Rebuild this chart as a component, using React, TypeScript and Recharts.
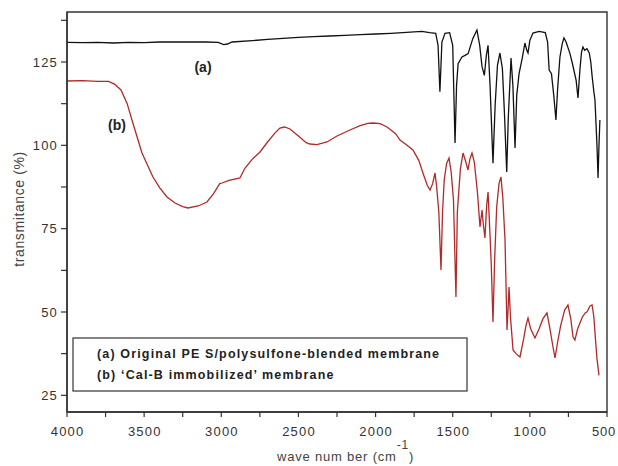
import { LineChart, Line, XAxis, YAxis, ReferenceArea } from 'recharts';

// wavenumber (cm-1) and transmittance (%) for curve (a), original PES/polysulfone membrane
const waveA = [
  4000, 3900, 3800, 3700, 3600, 3500, 3400, 3300, 3200, 3100, 3020, 2985, 2960, 2930, 2800, 2700,
  2600, 2500, 2400, 2300, 2200, 2100, 2000, 1900, 1800, 1700, 1650, 1610, 1595, 1583, 1570, 1550,
  1520, 1500, 1485, 1475, 1465, 1440, 1420, 1400, 1370, 1343, 1325, 1310, 1295, 1282, 1271, 1258,
  1239, 1225, 1210, 1194, 1178, 1165, 1150, 1140, 1122, 1110, 1096, 1085, 1070, 1050, 1032, 1020,
  1012, 1000, 980, 940, 900, 885, 875, 860, 845, 831, 820, 805, 790, 779, 765, 740,
  725, 712, 700, 688, 675, 665, 656, 645, 630, 615, 605, 597, 585, 578, 565, 558,
  552, 546,
];
const transA = [
  130.9, 130.8, 130.9, 130.7, 130.9, 130.8, 131.0, 131.0, 131.0, 131.0, 130.9, 130.2, 130.4, 131.0, 131.4, 131.8,
  132.1, 132.4, 132.6, 132.8, 133.0, 133.2, 133.4, 133.6, 133.9, 134.2, 133.8, 133.6, 130, 116.1, 131, 133.6,
  133.8, 130, 100.7, 118, 124.5, 126.5, 127, 127.5, 132, 134.6, 130, 123.6, 121, 127, 130, 118,
  94.6, 112, 124, 127.7, 123, 110, 92, 108, 126.2, 118, 99.2, 115, 121.5, 126, 130.7, 128.5,
  127.7, 131.5, 133.7, 134.2, 133.8, 131, 122.6, 121.5, 115, 107.6, 117, 126.5, 130.5, 132.2, 131, 127.5,
  124.7, 122, 119.5, 114.2, 123, 128, 129.5, 128.5, 129, 127.7, 125, 121, 116, 113.6, 100, 90.2,
  100, 107.6,
];

// curve (b), Cal-B immobilized membrane
const waveB = [
  4000, 3900, 3800, 3730, 3690, 3650, 3610, 3579, 3514, 3443, 3400, 3352, 3300, 3250, 3216, 3150,
  3093, 3050, 3010, 2995, 2950, 2879, 2846, 2800, 2749, 2700, 2650, 2620, 2590, 2555, 2500, 2450,
  2425, 2380, 2315, 2250, 2166, 2100, 2050, 2017, 1970, 1926, 1870, 1842, 1800, 1758, 1720, 1693,
  1665, 1647, 1630, 1615, 1605, 1590, 1576, 1566, 1555, 1540, 1524, 1510, 1495, 1479, 1470, 1460,
  1450, 1433, 1415, 1401, 1388, 1375, 1360, 1340, 1323, 1310, 1301, 1291, 1280, 1271, 1260, 1250,
  1239, 1228, 1215, 1200, 1187, 1175, 1161, 1148, 1140, 1135, 1125, 1109, 1090, 1064, 1040, 1025,
  1012, 995, 967, 940, 915, 889, 870, 850, 837, 820, 800, 775, 753, 735, 720, 708,
  690, 660, 640, 630, 610, 597, 585, 575, 565, 552,
];
const transB = [
  119.3, 119.4, 119.2, 119.2, 118.3, 116.6, 112.5, 107.6, 97.7, 90.5, 87.3, 84.5, 82.7, 81.6, 81.2, 81.8,
  83, 85.5, 88.5, 88.7, 89.5, 90.2, 93.2, 95.8, 98, 101, 103.8, 105.2, 105.5, 104.9, 102.8, 100.8,
  100.4, 100.2, 101, 102.8, 104.6, 105.9, 106.6, 106.7, 106.5, 105.5, 103.5, 101.6, 100.2, 98.6, 95.5, 91.7,
  88, 86.6, 88.5, 91.7, 88, 80, 62.6, 80, 89.6, 94.5, 96.2, 92, 83.6, 54.5, 80, 86.6,
  93, 97.7, 95, 92.6, 96, 97.7, 95, 86, 75.5, 80.6, 76, 72.2, 82, 86, 75, 64,
  47, 66, 81.5, 88.5, 90.5, 84, 71.6, 44.6, 52, 57.5, 48, 38.6, 37.5, 36.5, 42, 46,
  48.2, 45, 42.2, 45, 48, 49.7, 45, 39.5, 36.2, 41, 46, 50.5, 52.1, 48, 42.5, 41.6,
  45, 48.5, 49.8, 50, 51.8, 52.1, 48.5, 42, 36, 31,
];

const xTicks = [500, 750, 1000, 1250, 1500, 1750, 2000, 2250, 2500, 2750, 3000, 3250, 3500, 3750, 4000];
const yTicks = [25, 37.5, 50, 62.5, 75, 87.5, 100, 112.5, 125, 137.5];

const legendLines = [
  '(a) Original PE S/polysulfone-blended membrane',
  '(b) \u2018Cal-B immobilized\u2019 membrane',
];

const dataA = waveA.map((w, i) => ({ wn: w, t: transA[i] }));
const dataB = waveB.map((w, i) => ({ wn: w, t: transB[i] }));

const FONT = '"Liberation Sans", Arial, sans-serif';
const AXIS = '#333';

const XTick = (props: any) => {
  const { x, y, payload } = props;
  const major = payload.value % 500 === 0;
  // the last label sits against the page edge, so pull it inside
  const last = payload.value === 500;
  return (
    <g>
      <line x1={x} x2={x} y1={y} y2={y + 5} stroke={AXIS} strokeWidth={1.2} />
      {major && (
        <text
          x={last ? 616 : x + 0.6}
          y={y + 23.5}
          textAnchor={last ? 'end' : 'middle'}
          fontSize={13}
          letterSpacing={last ? 0.8 : 1.2}
          fill="#333"
          fontFamily={FONT}
        >
          {payload.value}
        </text>
      )}
    </g>
  );
};

const YTick = (props: any) => {
  const { x, y, payload } = props;
  const major = payload.value % 25 === 0;
  return (
    <g>
      <line x1={x - 6} x2={x} y1={y} y2={y} stroke={AXIS} strokeWidth={1.2} />
      {major && (
        <text x={x - 9} y={y + 4.5} textAnchor="end" fontSize={13} letterSpacing={1.2} fill="#333" fontFamily={FONT}>
          {payload.value}
        </text>
      )}
    </g>
  );
};

export default function App() {
  return (
    <div style={{ position: 'absolute', left: 0, top: 0, width: 618, height: 466, background: '#fff' }}>
      <LineChart width={618} height={466} margin={{ top: 12, right: 11, bottom: 0, left: 0 }}>
        <XAxis
          dataKey="wn"
          type="number"
          domain={[500, 4000]}
          reversed
          ticks={xTicks}
          interval={0}
          height={54}
          tickSize={0}
          tickMargin={0}
          tick={<XTick />}
          tickLine={false}
          axisLine={{ stroke: AXIS, strokeWidth: 1.4 }}
          allowDataOverflow
        />
        <YAxis
          type="number"
          domain={[20, 140]}
          ticks={yTicks}
          interval={0}
          width={67}
          tickSize={0}
          tickMargin={0}
          tick={<YTick />}
          tickLine={false}
          axisLine={{ stroke: AXIS, strokeWidth: 1.4 }}
          allowDataOverflow
        />
        <ReferenceArea x1={500} x2={4000} y1={20} y2={140} fill="none" stroke={AXIS} strokeWidth={1.4} />
        <Line data={dataA} dataKey="t" type="linear" stroke="#111" strokeWidth={1.3} dot={false} isAnimationActive={false} />
        <Line data={dataB} dataKey="t" type="linear" stroke="#b02a2a" strokeWidth={1.3} dot={false} isAnimationActive={false} />
      </LineChart>
      <svg width={618} height={466} style={{ position: 'absolute', left: 0, top: 0, pointerEvents: 'none' }}>
        <text x={203} y={72} textAnchor="middle" fontSize={14} fontWeight="bold" fill="#222" fontFamily={FONT}>(a)</text>
        <text x={117} y={130} textAnchor="middle" fontSize={14} fontWeight="bold" fill="#222" fontFamily={FONT}>(b)</text>
        <rect x={73} y={338} width={394} height={53} fill="#fff" stroke={AXIS} strokeWidth={1.2} />
        <text x={97} y={358} fontSize={12.5} letterSpacing={1.15} fontWeight="bold" fill="#222" fontFamily={FONT}>{legendLines[0]}</text>
        <text x={97} y={379} fontSize={12.5} letterSpacing={1.15} fontWeight="bold" fill="#222" fontFamily={FONT}>{legendLines[1]}</text>
        <text
          x={20}
          y={209}
          transform="rotate(-90 20 209)"
          textAnchor="middle"
          dominantBaseline="middle"
          fontSize={14}
          letterSpacing={0.6}
          fill="#444"
          fontFamily={FONT}
        >
          transmitance (%)
        </text>
        <text x={277} y={461} fontSize={13} letterSpacing={0.8} fill="#444" fontFamily={FONT}>
          wave num ber (cm
          <tspan dy={-12} fontSize={12}>-1</tspan>
          <tspan dy={12}>)</tspan>
        </text>
      </svg>
    </div>
  );
}
